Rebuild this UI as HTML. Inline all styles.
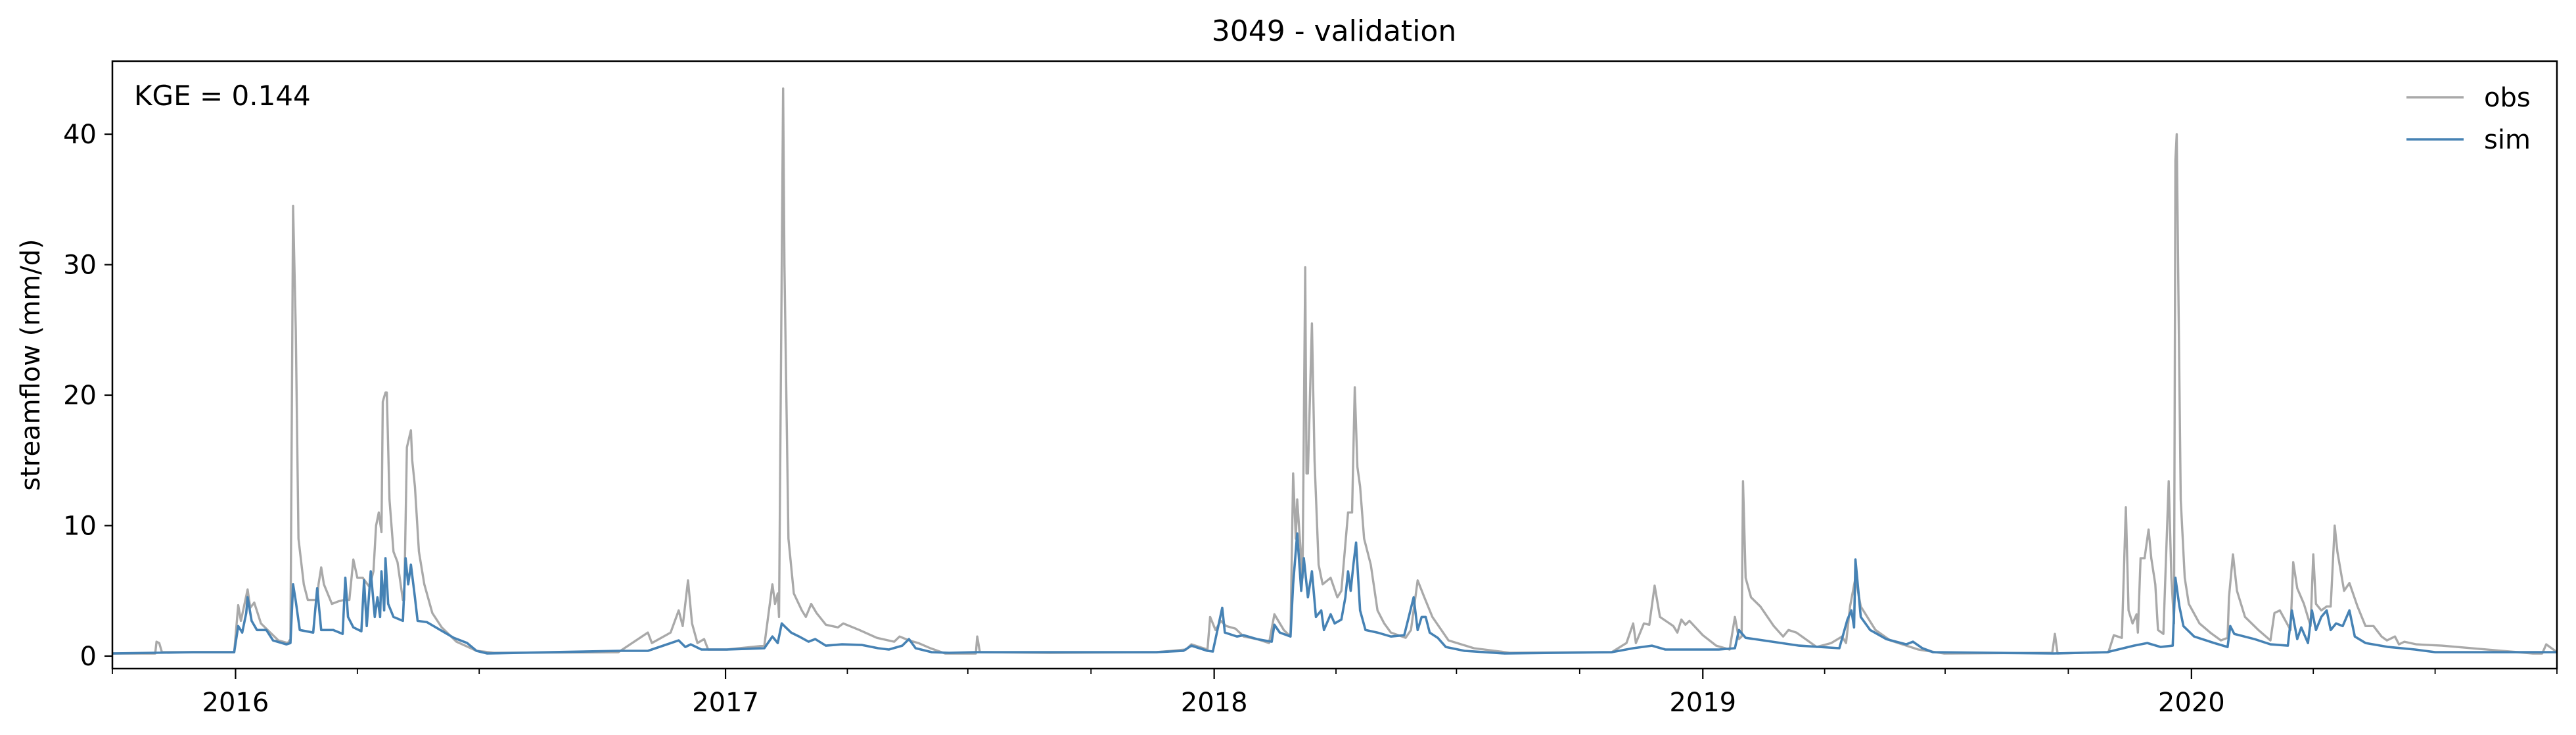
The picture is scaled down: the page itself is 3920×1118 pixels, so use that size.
<!DOCTYPE html>
<html><head><meta charset="utf-8"><style>
html,body{margin:0;padding:0;background:#fff;}
svg{display:block;font-family:"DejaVu Sans","Liberation Sans",sans-serif;}
</style></head><body>
<svg id="chart" width="3920" height="1118" viewBox="0 0 3920 1118" xmlns="http://www.w3.org/2000/svg">
<rect x="0" y="0" width="3920" height="1118" fill="#fff"/>
<text x="2030" y="62" font-size="44" text-anchor="middle">3049 - validation</text>
<g id="plot"></g>
<g id="axes"></g>
<text x="0" y="0" font-size="40" text-anchor="middle" transform="translate(60,555) rotate(-90)">streamflow (mm/d)</text>
<text x="204" y="160" font-size="42">KGE = 0.144</text>
<g>
<g>
<line x1="3662" y1="148" x2="3749" y2="148" stroke="#a9a9a9" stroke-width="3.4"/>
<text x="3780" y="162" font-size="40">obs</text>
</g>
<g>
<line x1="3662" y1="212" x2="3749" y2="212" stroke="#4682b4" stroke-width="3.6"/>
<text x="3780" y="226" font-size="40">sim</text>
</g>
</g>
</svg>
<script>
// days since 2015-10-01
const obsDays = [0,32,33,35,37,91,94,96,101,103,106,111,116,124,131,133,135,137,139,143,146,153,154,156,158,164,169,173,177,180,183,187,192,195,197,199,201,202,204,205,207,210,213,217,218,220,223,224,226,229,233,239,246,257,272,285,378,400,403,417,423,426,430,433,437,442,445,459,487,493,495,497,498,501,502,505,509,515,518,522,526,533,542,546,558,571,584,588,595,602,611,622,645,646,648,700,780,802,806,818,820,824,828,832,839,845,855,864,868,875,880,882,884,885,887,889,891,892,893,896,898,901,904,910,915,918,923,926,928,930,932,935,940,945,950,955,966,970,975,980,986,998,1017,1044,1120,1131,1136,1138,1144,1148,1152,1156,1166,1169,1172,1175,1178,1188,1198,1208,1212,1215,1217,1218,1220,1224,1231,1241,1248,1252,1258,1273,1284,1292,1295,1298,1302,1306,1317,1328,1349,1368,1449,1451,1453,1491,1495,1501,1504,1506,1509,1512,1513,1515,1518,1521,1523,1526,1528,1532,1536,1538,1540,1541,1542,1543,1545,1548,1551,1559,1567,1575,1580,1581,1584,1587,1593,1603,1612,1615,1619,1627,1629,1632,1637,1642,1644,1646,1650,1654,1657,1660,1662,1667,1671,1677,1683,1689,1695,1699,1705,1708,1712,1721,1740,1808,1815,1818,1826];
const obsVals = [0.2,0.2,1.1,1.0,0.3,0.3,3.9,2.7,5.1,3.7,4.1,2.5,2.0,1.2,1.0,1.3,34.5,25,9,5.5,4.3,4.3,5.5,6.8,5.5,4.0,4.2,4.3,4.3,7.4,6.0,6.0,5.3,6.5,10,11,9.5,19.5,20.2,20.2,12,8,7.2,4.3,4.3,16,17.3,15,13,8,5.5,3.3,2.2,1.1,0.4,0.25,0.3,1.8,1.0,1.8,3.5,2.3,5.8,2.5,1.0,1.3,0.5,0.5,0.8,5.5,4.0,4.8,3.0,43.5,30,9,4.8,3.5,3.0,4.0,3.3,2.4,2.2,2.5,2.0,1.4,1.1,1.5,1.2,1.0,0.6,0.2,0.2,1.5,0.3,0.25,0.3,0.5,0.9,0.5,3.0,2.0,2.7,2.3,2.1,1.5,1.3,1.0,3.2,2.0,1.5,14,9,12,9,6,29.8,14,14,25.5,15,7,5.5,6,4.5,5.0,11,11,20.6,14.5,13,9,7,3.5,2.5,1.8,1.4,2.0,5.8,4.5,3.0,1.2,0.6,0.25,0.3,1.0,2.5,1.0,2.5,2.4,5.4,3.0,2.3,1.8,2.8,2.4,2.7,1.6,0.8,0.5,3.0,1.3,1.5,13.4,6,4.5,3.8,2.3,1.5,2.0,1.8,0.7,1.0,1.5,1.0,3.8,6.0,3.8,2.0,1.2,0.5,0.2,0.25,1.7,0.2,0.3,1.6,1.4,11.4,3.5,2.5,3.2,1.8,7.5,7.5,9.7,7.5,5.5,2.0,1.7,13.4,6,2.5,38,40,30,12,6,4,2.5,1.8,1.2,1.4,4.5,7.8,5,3.0,2.0,1.2,3.3,3.5,2.0,7.2,5.2,4.0,2.3,7.8,4.0,3.5,3.8,3.8,10,8,5.0,5.6,3.8,2.3,2.3,1.5,1.2,1.5,0.9,1.1,0.9,0.8,0.2,0.2,0.9,0.3,0.2];
const simDays = [0,30,60,91,94,97,100,101,104,108,115,120,130,133,135,137,140,150,153,156,165,172,174,176,180,186,188,190,193,196,198,200,201,203,204,206,210,217,219,221,223,226,228,235,245,255,265,272,280,378,400,423,428,432,440,459,487,493,497,500,503,507,513,520,525,533,545,560,572,580,590,595,600,612,625,645,700,780,800,806,818,822,829,831,840,845,855,866,868,872,880,882,885,888,890,893,896,899,903,905,910,913,918,921,923,925,927,929,932,936,945,955,965,972,975,978,981,984,990,996,1010,1040,1120,1136,1150,1160,1200,1212,1215,1220,1240,1260,1290,1296,1299,1301,1302,1306,1313,1325,1340,1345,1352,1360,1450,1490,1510,1520,1530,1539,1541,1544,1547,1555,1570,1580,1582,1585,1600,1612,1625,1628,1632,1635,1640,1643,1646,1650,1654,1657,1661,1666,1671,1675,1683,1700,1720,1735,1826];
const simVals = [0.2,0.25,0.3,0.3,2.3,1.8,3.3,4.5,2.7,2.0,2.0,1.2,0.9,1.0,5.5,4.2,2.0,1.8,5.2,2.0,2.0,1.7,6.0,3.0,2.2,1.9,5.8,2.3,6.5,3.0,4.5,3.0,6.5,3.5,7.5,4.0,3.0,2.7,7.5,5.5,7.0,4.5,2.7,2.6,2.0,1.4,1.0,0.4,0.2,0.4,0.4,1.2,0.7,0.9,0.5,0.5,0.6,1.5,1.0,2.5,2.2,1.8,1.5,1.1,1.3,0.8,0.9,0.85,0.6,0.5,0.8,1.3,0.6,0.3,0.25,0.3,0.3,0.3,0.4,0.8,0.4,0.35,3.7,1.8,1.5,1.6,1.3,1.1,2.4,1.8,1.5,5.5,9.4,5,7.5,4.5,6.5,3,3.5,2.0,3.2,2.5,2.8,4.5,6.5,5,7,8.7,3.5,2.0,1.8,1.5,1.6,4.5,2,3,3.0,1.8,1.4,0.7,0.4,0.2,0.3,0.6,0.8,0.5,0.5,0.6,2.0,1.4,1.1,0.8,0.6,2.8,3.5,2.2,7.4,3.0,2.0,1.3,0.9,1.1,0.6,0.3,0.2,0.3,0.8,1.0,0.7,0.8,6.0,3.8,2.3,1.5,1.0,0.7,2.3,1.7,1.3,0.9,0.8,3.5,1.3,2.2,1.0,3.5,2.0,3.0,3.5,2.0,2.5,2.3,3.5,1.5,1.0,0.7,0.5,0.3,0.3];
const yTicks = [0,10,20,30,40];
const yearLabels = ["2016","2017","2018","2019","2020"];
const yearDays = [92,458,823,1188,1553];
const minorDays = [183,274,549,639,731,914,1004,1096,1279,1369,1461,1644,1735];

const L=171,R=3891,T=93,B=1017,D0=0,D1=1826,Y0=-0.96,Y1=45.6;
const NS="http://www.w3.org/2000/svg";
function xs(d){return L+(d-D0)/(D1-D0)*(R-L);}
function ys(v){return B-(v-Y0)/(Y1-Y0)*(B-T);}
function mk(tag,attrs,parent){const e=document.createElementNS(NS,tag);for(const k in attrs)e.setAttribute(k,attrs[k]);parent.appendChild(e);return e;}
const plot=document.getElementById('plot');
const axes=document.getElementById('axes');
function series(days,vals,color,w,name){
  let d='';
  for(let i=0;i<days.length;i++){d+=(i?'L':'M')+xs(days[i]).toFixed(1)+' '+ys(vals[i]).toFixed(1);}
  const p=mk('path',{d:d,fill:'none',stroke:color,'stroke-width':w,'stroke-linejoin':'round'},plot);
  
  
}
series(obsDays,obsVals,'#a9a9a9',3.4,'obs-line');
series(simDays,simVals,'#4682b4',3.6,'sim-line');
const frame=mk('rect',{x:L,y:T,width:R-L,height:B-T,fill:'none',stroke:'#000','stroke-width':2.5},axes);


yTicks.forEach(v=>{
  const t=mk('line',{x1:L-12,x2:L,y1:ys(v),y2:ys(v),stroke:'#000','stroke-width':2.2},axes);
  
  
  const tx=mk('text',{x:L-24,y:ys(v)+14,'font-size':40,'text-anchor':'end'},axes);
  tx.textContent=String(v);
  
  
});
yearDays.forEach((d,i)=>{
  const t=mk('line',{x1:xs(d),x2:xs(d),y1:B,y2:B+16,stroke:'#000','stroke-width':2.2},axes);
  
  
  const tx=mk('text',{x:xs(d),y:1082,'font-size':40,'text-anchor':'middle'},axes);
  tx.textContent=yearLabels[i];
  
  
});
minorDays.concat([0,1826]).forEach(d=>{
  const t=mk('line',{x1:xs(d),x2:xs(d),y1:B,y2:B+8,stroke:'#000','stroke-width':1.8},axes);
  
  
});
</script>
</body></html>
